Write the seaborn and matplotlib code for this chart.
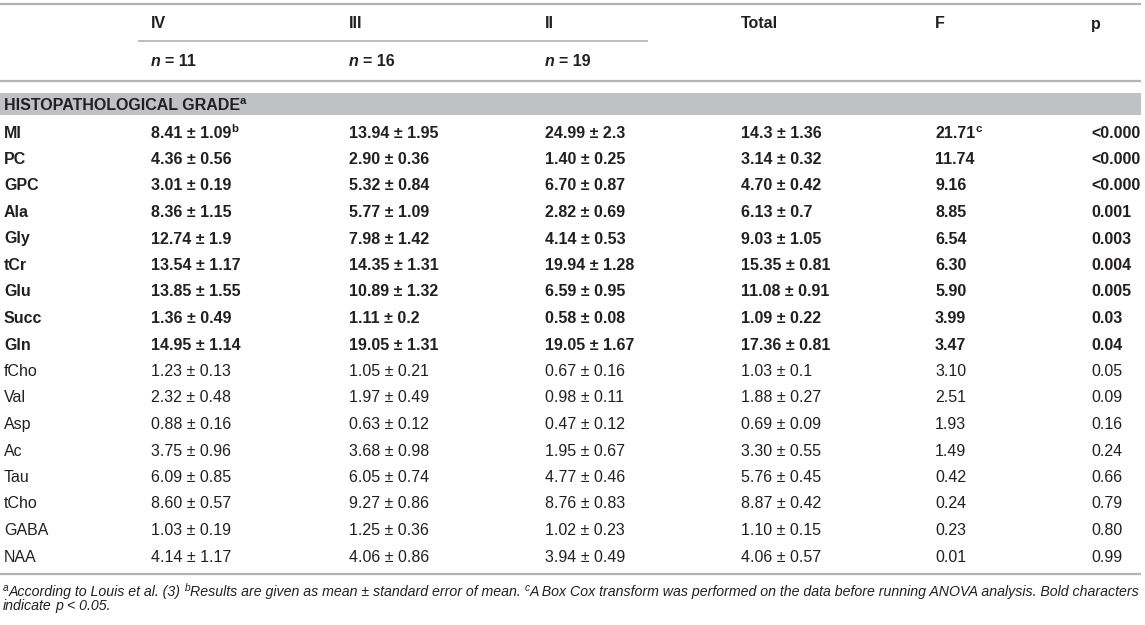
import matplotlib
matplotlib.use("Agg")
import matplotlib.pyplot as plt
import seaborn as sns
from matplotlib import font_manager

# --------------------------------------
# Table data
# --------------------------------------

groups = ["IV", "III", "II"]
group_n = [11, 16, 19]
extra_headers = ["Total", "F", "p"]
section_title = "HISTOPATHOLOGICAL GRADE"

metabolites = ["MI", "PC", "GPC", "Ala", "Gly", "tCr", "Glu", "Succ", "Gln",
               "fCho", "Val", "Asp", "Ac", "Tau", "tCho", "GABA", "NAA"]

grade_iv = ["8.41 ± 1.09", "4.36 ± 0.56", "3.01 ± 0.19", "8.36 ± 1.15",
            "12.74 ± 1.9", "13.54 ± 1.17", "13.85 ± 1.55", "1.36 ± 0.49",
            "14.95 ± 1.14", "1.23 ± 0.13", "2.32 ± 0.48", "0.88 ± 0.16",
            "3.75 ± 0.96", "6.09 ± 0.85", "8.60 ± 0.57", "1.03 ± 0.19",
            "4.14 ± 1.17"]

grade_iii = ["13.94 ± 1.95", "2.90 ± 0.36", "5.32 ± 0.84", "5.77 ± 1.09",
             "7.98 ± 1.42", "14.35 ± 1.31", "10.89 ± 1.32", "1.11 ± 0.2",
             "19.05 ± 1.31", "1.05 ± 0.21", "1.97 ± 0.49", "0.63 ± 0.12",
             "3.68 ± 0.98", "6.05 ± 0.74", "9.27 ± 0.86", "1.25 ± 0.36",
             "4.06 ± 0.86"]

grade_ii = ["24.99 ± 2.3", "1.40 ± 0.25", "6.70 ± 0.87", "2.82 ± 0.69",
            "4.14 ± 0.53", "19.94 ± 1.28", "6.59 ± 0.95", "0.58 ± 0.08",
            "19.05 ± 1.67", "0.67 ± 0.16", "0.98 ± 0.11", "0.47 ± 0.12",
            "1.95 ± 0.67", "4.77 ± 0.46", "8.76 ± 0.83", "1.02 ± 0.23",
            "3.94 ± 0.49"]

total = ["14.3 ± 1.36", "3.14 ± 0.32", "4.70 ± 0.42", "6.13 ± 0.7",
         "9.03 ± 1.05", "15.35 ± 0.81", "11.08 ± 0.91", "1.09 ± 0.22",
         "17.36 ± 0.81", "1.03 ± 0.1", "1.88 ± 0.27", "0.69 ± 0.09",
         "3.30 ± 0.55", "5.76 ± 0.45", "8.87 ± 0.42", "1.10 ± 0.15",
         "4.06 ± 0.57"]

f_stat = ["21.71", "11.74", "9.16", "8.85", "6.54", "6.30", "5.90", "3.99",
          "3.47", "3.10", "2.51", "1.93", "1.49", "0.42", "0.24", "0.23", "0.01"]

p_value = ["<0.000", "<0.000", "<0.000", "0.001", "0.003", "0.004", "0.005",
           "0.03", "0.04", "0.05", "0.09", "0.16", "0.24", "0.66", "0.79",
           "0.80", "0.99"]

# superscript notes: (row, column) -> letter
cell_notes = {(0, 1): "b", (0, 5): "c"}

# --------------------------------------
# Style
# --------------------------------------

sns.set_theme(style="white")

installed = {f.name for f in font_manager.fontManager.ttflist}
main_font = "Liberation Sans"
note_font = "Liberation Sans Narrow" if "Liberation Sans Narrow" in installed else main_font
plt.rcParams["font.family"] = [main_font, "DejaVu Sans"]

TEXT = "#231f20"
RULE = "#b3b3b3"
BAND = "#c0c1c4"
SIZE = 11.5

W, H = 1145, 625
fig = plt.figure(figsize=(W / 100, H / 100), dpi=100)
ax = fig.add_axes([0, 0, 1, 1])
ax.set_xlim(0, W)
ax.set_ylim(H, 0)
ax.axis("off")
renderer = fig.canvas.get_renderer()


def text_width(t):
    return t.get_window_extent(renderer).width


def space_width(size, family, style):
    a = ax.text(0, 0, "a a", fontsize=size, family=family, fontstyle=style)
    b = ax.text(0, 0, "aa", fontsize=size, family=family, fontstyle=style)
    w = text_width(a) - text_width(b)
    a.remove()
    b.remove()
    return w


def put(x, y, parts, size=SIZE, weight="normal", family=None, style="normal"):
    # parts: list of (text, kind) with kind in "", "sup", "it", "sp"
    family = family or [main_font, "DejaVu Sans"]
    drawn = []
    for txt, kind in parts:
        if kind == "sp":
            x += space_width(size, family, style)
            continue
        fs = size * 0.72 if kind == "sup" else size
        dy = -size * 0.5 if kind == "sup" else 0
        st = "italic" if kind == "it" else style
        t = ax.text(x, y + dy, txt, fontsize=fs, fontweight=weight,
                    fontstyle=st, family=family, color=TEXT, va="baseline")
        x += text_width(t)
        drawn.append(t)
    return drawn, x


# --------------------------------------
# Layout (pixels)
# --------------------------------------

col_x = [4, 151, 349, 545, 741, 935, 1091]
right = 1141
row_top = 132
row_step = 26.5
lift = 5.5

# rules and band
ax.hlines(4, 0, right, color=RULE, lw=1.6)
ax.hlines(41, 138, 648, color=RULE, lw=1.2)
ax.hlines(81, 0, right, color=RULE, lw=1.6)
ax.add_patch(plt.Rectangle((0, 93), right, 22, color=BAND, lw=0))
ax.hlines(574, 0, right, color=RULE, lw=1.6)

# header
for i, g in enumerate(groups):
    put(col_x[i + 1], 23 + lift, [(g, "")], weight="bold")
    put(col_x[i + 1], 61 + lift, [("n", "it"), ("", "sp"), ("= " + str(group_n[i]), "")],
        weight="bold")
for j, h in enumerate(extra_headers):
    put(col_x[4 + j], 23 + lift, [(h, "")], weight="bold")

put(col_x[0], 104 + lift, [(section_title, ""), ("a", "sup")], weight="bold")

# body
for i, name in enumerate(metabolites):
    y = row_top + i * row_step + lift
    significant = float(p_value[i].lstrip("<")) < 0.05
    weight = "bold" if significant else "normal"
    cells = [name, grade_iv[i], grade_iii[i], grade_ii[i], total[i], f_stat[i], p_value[i]]
    for j, c in enumerate(cells):
        parts = [(c, "")]
        if (i, j) in cell_notes:
            parts.append((cell_notes[(i, j)], "sup"))
        put(col_x[j], y, parts, weight=weight)

# footnotes
line1 = [("a", "sup"), ("According to Louis et al. (3)", ""), ("", "sp"),
         ("b", "sup"), ("Results are given as mean ± standard error of mean.", ""),
         ("", "sp"), ("c", "sup"),
         ("A Box Cox transform was performed on the data before running ANOVA analysis. Bold characters", "")]
line2 = [("indicate", ""), ("", "sp"), ("p", ""), ("", "sp"), ("< 0.05.", "")]

trial = 10
drawn, end = put(3, 596, line1, size=trial, family=[note_font, "DejaVu Sans"], style="italic")
for t in drawn:
    t.remove()
note_size = trial * (1139 / (end - 3))
put(3, 596, line1, size=note_size, family=[note_font, "DejaVu Sans"], style="italic")
put(3, 610, line2, size=note_size, family=[note_font, "DejaVu Sans"], style="italic")

fig.savefig("out.png", dpi=100)
